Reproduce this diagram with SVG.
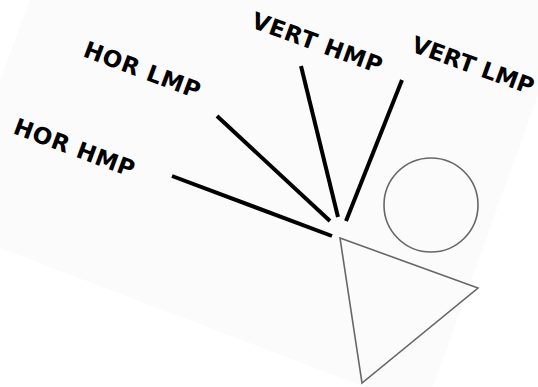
<svg xmlns="http://www.w3.org/2000/svg" width="538" height="387" viewBox="0 0 538 387">
<style>
.lbl{font-family:"DejaVu Sans","Liberation Sans",sans-serif;font-weight:bold;font-size:23px;letter-spacing:0.6px;fill:#000}
.tight{letter-spacing:0px}
.conn{stroke:#000;stroke-width:4;stroke-linecap:butt;fill:none}
.shape{stroke:#666;stroke-width:1.6;fill:none}
</style>
<rect x="0" y="0" width="538" height="387" fill="#ffffff"/>
<polygon points="30,0 538,0 538,95 433,387 365,387 0,248 0,80" fill="#fbfbfb"/>
<g id="connectors">
<line class="conn" x1="172" y1="176" x2="332" y2="236"/>
<line class="conn" x1="217" y1="116" x2="330" y2="221"/>
<line class="conn" x1="301" y1="66" x2="338" y2="217"/>
<line class="conn" x1="402" y1="80" x2="346" y2="221"/>
</g>
<g id="label-hor-hmp"><text class="lbl" transform="translate(12,133) rotate(20.5)">HOR HMP</text></g>
<g id="label-hor-lmp"><text class="lbl" transform="translate(82,56) rotate(20.5)">HOR LMP</text></g>
<g id="label-vert-hmp"><text class="lbl" transform="translate(250,27) rotate(20)">VERT HMP</text></g>
<g id="label-vert-lmp"><text class="lbl tight" transform="translate(410,51) rotate(20)">VERT LMP</text></g>
<g id="circle"><circle class="shape" cx="431" cy="205" r="47"/></g>
<g id="triangle"><polygon class="shape" points="340,238 478,288 362,383"/></g>
</svg>
